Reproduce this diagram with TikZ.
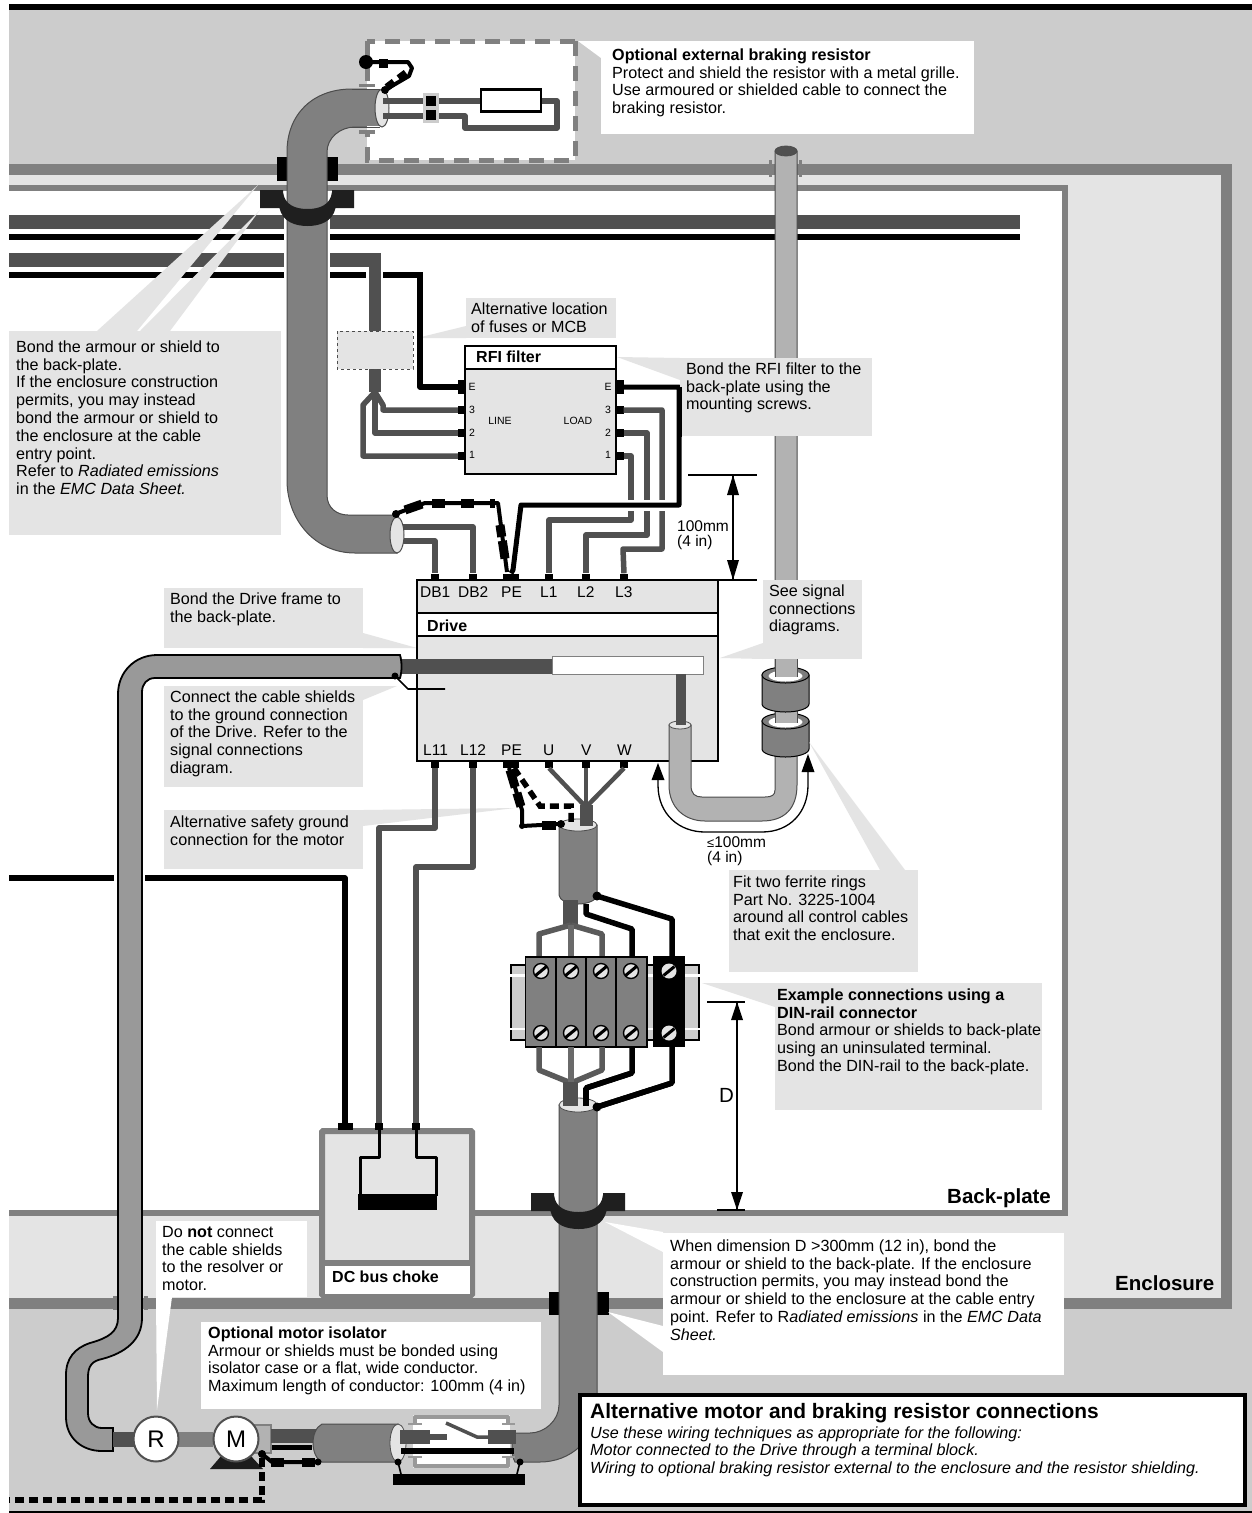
\documentclass[tikz,border=0pt]{standalone}
\usepackage{fontspec}
\setmainfont{Liberation Sans}
\definecolor{bggray}{HTML}{CCCCCC}
\definecolor{lgray}{HTML}{E4E4E4}
\definecolor{mgray}{HTML}{808080}
\definecolor{dgray}{HTML}{505050}
\definecolor{pgray}{HTML}{999999}
\definecolor{hgray}{HTML}{B2B2B2}
\tikzset{
  wire/.style={draw=dgray,line width=5.5pt,line join=round},
  bwire/.style={draw=black,line width=5.5pt,line join=round},
  thinb/.style={draw=black,line width=1.6pt,line join=round},
  shwire/.style={draw=black,line width=4pt,line join=round},
  blobs/.style={draw=black,line width=9pt,dash pattern=on 9pt off 15pt},
  dotted thick/.style={draw=black,line width=5.5pt,dash pattern=on 9pt off 5pt},
  term/.style={fill=black,inner sep=0pt,minimum width=8pt,minimum height=7pt},
  termv/.style={fill=black,inner sep=0pt,minimum width=7pt,minimum height=8pt},
  txt/.style={anchor=north west,inner sep=0pt,align=left,font=\fontsize{16.15}{17.8}\selectfont},
  lbl/.style={anchor=base west,inner sep=0pt,font=\fontsize{15.5}{15.5}\selectfont},
  blbl/.style={anchor=base west,inner sep=0pt,font=\fontsize{16}{16}\selectfont\bfseries},
  tiny/.style={anchor=center,inner sep=0pt,font=\fontsize{10.5}{10.5}\selectfont},
  pipe/.style={fill=mgray,draw=black!70,line width=1pt},
  spipe/.style={fill=pgray,draw=black,line width=1.8pt},
  lpipe/.style={fill=hgray,draw=black!70,line width=1pt},
  dimh/.style={draw=black,line width=1.6pt},
  dima/.style={fill=black},
  callout/.style={fill=lgray},
  calloutw/.style={fill=white},
  screw/.style={circle,draw=black,line width=1.4pt,fill=lgray,minimum size=15pt,inner sep=0pt},
}
\newcommand{\rs}{\rule{0pt}{12pt}}
\newcommand{\saddleclamp}{%
  \fill[black!88] (-47.5,0) -- (-24.5,0) -- (-24.5,2) .. controls (-23,15) and (-12,19) .. (0,19)
   .. controls (12,19) and (23,15) .. (24.5,2) -- (24.5,0) -- (46.5,0) -- (46.5,18) -- (28,18)
   .. controls (25,32) and (12,36) .. (0,36) .. controls (-12,36) and (-25,32) .. (-28,18) -- (-47.5,18) -- cycle;}
\begin{document}
\begin{tikzpicture}[x=1pt,y=-1pt]
\useasboundingbox (0,0) rectangle (1252,1513);
\fill[white] (0,0) rectangle (1252,1513);
% --- regions
\fill[bggray] (9,9) rectangle (1252,1511);
\fill[mgray] (9,164) rectangle (1232,1309);
\fill[lgray] (9,175) rectangle (1221,1298);
\fill[mgray] (9,185) rectangle (1068,1216);
\fill[white] (9,191) rectangle (1062,1210);
\fill[black] (9,4) rectangle (1252,10);
\fill[black] (9,1511) rectangle (1252,1513);
% --- horizontal supply bands
\fill[dgray] (9,215) rectangle (1020,229);
\fill[black] (9,234) rectangle (1020,240);
\fill[dgray] (9,253) rectangle (381,267);
\fill[black] (9,272) rectangle (423,278);
\fill[white] (366,268) rectangle (383,282);
\fill[dgray] (369,267) rectangle (381,392);
% --- choke
\fill[lgray,draw=mgray,line width=6pt,rounded corners=1pt] (322,1131) rectangle (472,1295);
\fill[mgray] (322,1260) rectangle (472,1266);
\fill[white] (325,1266) rectangle (470,1294);
% --- terminals
\node[termv,minimum height=14pt] (fE) at (461.5,387) {};
\node[termv] (f3) at (461.5,410) {};
\node[termv] (f2) at (461.5,433) {};
\node[termv] (f1) at (461.5,456) {};
\node[termv,minimum height=14pt] (gE) at (620,387) {};
\node[termv] (g3) at (620,410) {};
\node[termv] (g2) at (620,433) {};
\node[termv] (g1) at (620,456) {};
\node[term] (db1) at (435,577) {};
\node[term] (db2) at (473,577) {};
\node[term,minimum width=16pt] (pe) at (511,577) {};
\node[term] (l1) at (549,577) {};
\node[term] (l2) at (586,577) {};
\node[term] (l3) at (624,577) {};
\node[term] (l11) at (435,764.5) {};
\node[term] (l12) at (473,764.5) {};
\node[term,minimum width=16pt] (pe2) at (511,764.5) {};
\node[term] (u) at (549,764.5) {};
\node[term] (v) at (586,764.5) {};
\node[term] (w) at (624,764.5) {};
\node[term,minimum width=15pt] (c0) at (345,1126.5) {};
\node[term] (c1) at (379,1126.5) {};
\node[term] (c2) at (416,1126.5) {};
% --- callouts under wires
\fill[callout] (164,588) rectangle (363,648);
\fill[callout] (363,633) -- (417,648) -- (363,648) -- cycle;
\fill[callout] (164,686) rectangle (363,787);
\fill[callout] (363,686) -- (397,686) -- (363,700) -- cycle;
\fill[callout] (164,810) rectangle (363,869);
\fill[callout] (363,810) -- (515,808) -- (363,826) -- cycle;
\fill[callout] (466,298) rectangle (616,338);
\fill[callout] (466,326) -- (417,338) -- (466,338) -- cycle;
% --- LINE wires
\draw[bwire] (420,275) -- (420,387) -- (fE.west);
\draw[wire] (375,392) -- (383,405) -- (383,410) -- (f3.west);
\draw[wire] (375,392) -- (375,433) -- (f2.west);
\draw[wire] (375,392) -- (363,405) -- (363,456) -- (f1.west);
\fill[lgray,draw=black!70,line width=1pt,dashed] (337,331) rectangle (413,369);
% --- LOAD wires
\draw[wire] (g3.east) -- (662,410) -- (662,549) -- (623,549) -- (l3.north);
\draw[wire] (g2.east) -- (647,433) -- (647,535) -- (586,535) -- (l2.north);
\draw[wire] (g1.east) -- (631,456) -- (631,520) -- (549,520) -- (l1.north);
\draw[white,line width=11pt] (624,505) -- (672,505);
\draw[bwire,line width=5pt] (gE.east) -- (679,387) -- (679,505) -- (521,505) -- (513,570) -- (pe.north);
% --- drive
\draw[fill=lgray,draw=black,line width=1.6pt] (417,580) rectangle (718,761);
\draw[fill=white,draw=black,line width=1.6pt] (417,613) rectangle (718,636);
\fill[dgray] (400,659) rectangle (552,674);
\draw[fill=white,draw=mgray,line width=.8pt] (552,656) rectangle (703,674);
\fill[dgray] (676,674) rectangle (686,725);
% --- bottom drive wires
\draw[wire] (l11.south) -- (435,828) -- (379,828) -- (c1.north);
\draw[wire] (l12.south) -- (473,867) -- (416,867) -- (c2.north);
\draw[bwire] (9,878) -- (345,878) -- (c0.north);
\fill[white] (114,872) rectangle (145,885);
\draw[wire,line width=4.5pt] (u.south) -- (584,805);
\draw[wire,line width=4.5pt] (w.south) -- (588,805);
\draw[wire,line width=4.5pt] (v.south) -- (586,805);
\fill[dgray] (580,805) rectangle (593,830);
% --- choke inner
\draw[thinb,line width=3pt] (c1.south) -- (379,1157) -- (360,1157) -- (360,1196);
\draw[thinb,line width=3pt] (c2.south) -- (416,1157) -- (436,1157) -- (436,1196);
\fill[black] (358,1194) rectangle (437,1210);
% --- DB wires and dashed shields
\draw[wire] (397,527) -- (473,527) -- (db2.north);
\draw[wire] (397,541) -- (435,541) -- (db1.north);
% --- white halo for main pipe
\fill[white] (284,210) rectangle (330,280);
% --- enclosure clamps main pipe
\fill[black] (277,157) rectangle (338,181);
% --- main top pipe
\draw[pipe] (380,89) -- (352,89) .. controls (312,89) and (287,115) .. (287,152) -- (287,480)
  .. controls (287,520) and (315,553) .. (355,553) -- (397,553) -- (397,515) -- (348,515)
  .. controls (337,515) and (327,508) .. (327,495) -- (327,152)
  .. controls (327,138) and (340,127) .. (355,127) -- (380,127) -- cycle;
\draw[fill=lgray,draw=black!70,line width=1pt] (397,535) ellipse (7 and 18);
\begin{scope}[shift={(307.5,190)}]\saddleclamp\end{scope}
% --- braking resistor box
\fill[white] (367,41) rectangle (575,160);
\draw[draw=mgray,line width=5pt,dash pattern=on 15pt off 10pt] (575,41) -- (367,41);
\draw[draw=mgray,line width=5pt,dash pattern=on 15pt off 10pt] (575,41) -- (575,160) -- (367,160) -- (367,132);
\draw[draw=mgray,line width=5pt,dash pattern=on 15pt off 10pt] (367,41) -- (367,85);
\fill[mgray] (359,84) rectangle (375,87);
\fill[mgray] (359,130) rectangle (375,134);
\fill[mgray] (352,90) rectangle (382,126);
\draw[black!70,line width=1pt] (352,89) -- (380,89) (352,127) -- (380,127);
\draw[fill=lgray,draw=black!70,line width=1pt] (382,108) ellipse (7 and 19);
\draw[wire] (383,101) -- (480,101);
\draw[wire] (383,116) -- (465,116) -- (465,128) -- (557,128) -- (557,101) -- (542,101);
\fill[bggray] (423,93) rectangle (439,123);
\fill[black] (426,96) rectangle (436,106);
\fill[black] (426,110) rectangle (436,120);
\node[draw=black,fill=white,line width=2.5pt,inner sep=0pt,minimum width=60pt,minimum height=22pt] (res) at (511,100.5) {};
\fill[black] (366,62) circle (7);
\draw[shwire] (366,62) -- (408,62) -- (412,68) -- (409,76) -- (385,90);
\draw[blobs,dash pattern=on 9pt off 100pt] (379,63) -- (392,63);
\draw[blobs,dash pattern=on 9pt off 6pt on 9pt off 100pt,line width=7.5pt] (406,73) -- (386,88);
\fill[black] (385,90) circle (4);
% --- filter
\draw[fill=lgray,draw=black,line width=1.6pt] (465,346) rectangle (616,474);
\draw[fill=white,draw=black,line width=1.6pt] (465,346) rectangle (616,369);
\node[blbl] (rfi) at (476,362) {RFI filter};
\node[tiny] (le) at (472,387) {E};
\node[tiny] (l3l) at (472,410) {3};
\node[tiny] (l2l) at (472,433) {2};
\node[tiny] (l1l) at (472,455) {1};
\node[tiny] (re) at (608,387) {E};
\node[tiny] (r3l) at (608,410) {3};
\node[tiny] (r2l) at (608,433) {2};
\node[tiny] (r1l) at (608,455) {1};
\node[tiny] (linel) at (500,421) {LINE};
\node[tiny] (loadl) at (578,421) {LOAD};
% --- PE shield to DB pipe
\draw[shwire] (395,514) -- (425,503) -- (498,503) -- (507,572);
\draw[blobs,dash pattern=on 18pt off 100pt] (405,510) -- (425,503);
\draw[blobs,dash pattern=on 13pt off 16pt on 13pt off 16pt on 13pt off 100pt] (432,503) -- (495,503);
\draw[blobs,dash pattern=on 12pt off 4pt on 18pt off 100pt] (500,525) -- (507,572);
\fill[black] (396,514) circle (4);
% --- drive labels
\node[lbl] (t1) at (420,597) {DB1};
\node[lbl] (t2) at (458,597) {DB2};
\node[lbl] (t3) at (501,597) {PE};
\node[lbl] (t4) at (540,597) {L1};
\node[lbl] (t5) at (577,597) {L2};
\node[lbl] (t6) at (615,597) {L3};
\node[blbl] (drv) at (427,631) {Drive};
\node[lbl] (b1) at (423,755) {L11};
\node[lbl] (b2) at (460,755) {L12};
\node[lbl] (b3) at (501,755) {PE};
\node[lbl] (b4) at (543,755) {U};
\node[lbl] (b5) at (581,755) {V};
\node[lbl] (b6) at (617,755) {W};
% --- shield pipe from the drive to the resolver
\draw[spipe] (400,655) -- (157,655) .. controls (135,655) and (118,672) .. (118,694) -- (118,1318)
  .. controls (118,1332) and (108,1338) .. (90,1343) .. controls (75,1348) and (66,1358) .. (66,1375)
  -- (66,1417) .. controls (66,1438) and (82,1451) .. (102,1451) -- (113,1451) -- (113,1428) -- (102,1428)
  .. controls (94,1428) and (88,1422) .. (88,1413) -- (88,1377) .. controls (88,1366) and (92,1361) .. (102,1359)
  .. controls (125,1353) and (142,1340) .. (142,1318) -- (142,692) .. controls (142,684) and (147,678) .. (155,678)
  -- (400,678) .. controls (402,672) and (402,661) .. (400,655) -- cycle;
\fill[black] (395,676) circle (3.5);
\draw[thinb] (395,676) -- (408,689) -- (445,689);
\fill[mgray] (113,1296) rectangle (117,1310);
\fill[mgray] (144,1296) rectangle (148,1310);
% --- long signal pipe
\fill[mgray] (769,160) rectangle (772,177);
\fill[mgray] (799,160) rectangle (802,177);
\draw[lpipe] (775,151) -- (775,790) .. controls (775,795) and (772,797) .. (765,797) -- (702,797)
  .. controls (695,797) and (691,794) .. (691,785) -- (691,725) -- (669,725) -- (669,785)
  .. controls (669,808) and (685,821) .. (705,821) -- (762,821) .. controls (785,821) and (797,808) .. (797,785)
  -- (797,151) -- cycle;
\draw[fill=dgray,draw=black!70,line width=.8pt] (786,151) ellipse (11 and 5);
\draw[fill=lgray,draw=black!70,line width=.8pt] (680,725) ellipse (11 and 4);
\fill[dgray] (676,715) rectangle (686,725);
% ferrites
\draw[fill=mgray,draw=black,line width=1pt] (762,721) -- (762,749) arc[start angle=180,end angle=0,x radius=23.5,y radius=8] -- (809,721) -- cycle;
\draw[fill=dgray!75,draw=black,line width=1pt] (785.5,721) ellipse (23.5 and 8);
\fill[white] (785.5,722) ellipse (17 and 5.5);
\fill[hgray] (775,700) rectangle (797,723);
\draw[black!70,line width=1pt] (775,700) -- (775,723) (797,700) -- (797,723);
\draw[fill=mgray,draw=black,line width=1pt] (762,675) -- (762,704) arc[start angle=180,end angle=0,x radius=23.5,y radius=8] -- (809,675) -- cycle;
\draw[fill=dgray!75,draw=black,line width=1pt] (785.5,675) ellipse (23.5 and 8);
\fill[white] (785.5,676) ellipse (17 and 5.5);
\fill[hgray] (775,655) rectangle (797,677);
\draw[black!70,line width=1pt] (775,655) -- (775,677) (797,655) -- (797,677);
% --- middle motor cable
\draw[pipe] (559,825) -- (559,895) .. controls (559,900) and (568,904) .. (578,904) .. controls (588,904) and (597,900) .. (597,895) -- (597,825) -- cycle;
\draw[fill=lgray,draw=black!70,line width=.8pt] (578,825) ellipse (19 and 6);
\fill[dgray] (580,805) rectangle (593,826);
% --- PE dashed links
\draw[dotted thick] (514,768) -- (540,806) -- (571,806) -- (571,826);
\draw[shwire] (509,768) -- (522,810) -- (522,826) -- (560,824);
\draw[blobs,dash pattern=on 18pt off 6pt on 14pt off 100pt] (510,770) -- (522,810);
\draw[blobs,dash pattern=on 14pt off 100pt] (542,825) -- (556,825);
\fill[black] (561,824) circle (4);
\fill[black] (522,826) circle (3);
% --- din-rail wires top
\fill[dgray] (563,900) rectangle (578,927);
\draw[wire,draw=mgray!70!black] (571,925) -- (539,934) -- (539,958);
\draw[wire,draw=mgray!70!black] (571,925) -- (602,934) -- (602,958);
\draw[wire,draw=dgray!85] (571,925) -- (571,958);
\draw[bwire] (586,904) -- (586,914) -- (632,929) -- (632,958);
\draw[bwire] (597,896) -- (672,919) -- (672,958);
\fill[black] (597,896) circle (4.5);
% din-rail
\fill[bggray] (511,965) rectangle (699,1040);
\draw[black,line width=1.6pt] (511,965) rectangle (699,1040);
\draw[white,line width=2.5pt] (509,975.5) -- (701,975.5);
\draw[white,line width=2.5pt] (509,1029) -- (701,1029);
\draw[fill=mgray,draw=black,line width=1.6pt] (525.5,957) rectangle (647,1047);
\draw[black,line width=1.4pt] (556,957) -- (556,1047) (586,957) -- (586,1047) (616,957) -- (616,1047);
\fill[black] (653,956) rectangle (685,1047);
\foreach \sx/\sn in {541/a,571/b,601/c,631/d}{
  \foreach \sy/\sm in {971/t,1033/u}{
    \node[screw] (s\sn\sm) at (\sx,\sy) {};
    \draw[black,line width=3pt] (\sx-5.5,\sy+4.5) -- (\sx+5.5,\sy-4.5);
  }}
\foreach \sy/\sm in {971/t,1033/u}{
  \node[screw,draw=none,fill=lgray] (se\sm) at (669,\sy) {};
  \draw[black,line width=3pt] (669-5.5,\sy+4.5) -- (669+5.5,\sy-4.5);
}
% --- din-rail wires bottom
\draw[wire,draw=mgray!70!black] (539,1047) -- (539,1070) -- (571,1083);
\draw[wire,draw=mgray!70!black] (602,1047) -- (602,1070) -- (571,1083);
\draw[wire,draw=dgray!85] (571,1047) -- (571,1083);
\draw[bwire] (632,1047) -- (632,1073) -- (586,1088) -- (586,1106);
\draw[bwire] (672,1047) -- (672,1083) -- (597,1107);
% --- lower pipe, clamps
\fill[black] (549,1292) rectangle (609,1315);
\draw[pipe] (559,1105) -- (559,1405) .. controls (559,1420) and (545,1433) .. (530,1433) -- (515,1433)
  .. controls (511,1440) and (511,1455) .. (515,1462) -- (540,1462) .. controls (570,1462) and (597,1440) .. (597,1405) -- (597,1105) -- cycle;
\draw[fill=lgray,draw=black!70,line width=.8pt] (578,1105) ellipse (19 and 7);
\fill[dgray] (563,1082) rectangle (578,1106);
\draw[bwire] (586,1088) -- (586,1106);
\draw[bwire] (632,1073) -- (586,1088);
\draw[bwire] (672,1083) -- (597,1107);
\fill[black] (597,1107) circle (4.5);
\begin{scope}[shift={(578.5,1193)}]\saddleclamp\end{scope}
% --- motor end
\fill[dgray] (113,1432) rectangle (135,1447);
\fill[mgray] (178,1432) rectangle (213,1447);
\fill[dgray!130] (210,1469) -- (222,1455) -- (250,1455) -- (263,1469) -- cycle;
\draw[fill=hgray,draw=mgray,line width=1.5pt] (240,1425) rectangle (271,1453);
\node[draw=dgray,fill=white,circle,line width=2pt,inner sep=0pt,minimum size=45pt,font=\fontsize{24}{24}\selectfont] (res2) at (156,1439) {R};
\node[draw=dgray,fill=white,circle,line width=2pt,inner sep=0pt,minimum size=45pt,font=\fontsize{24}{24}\selectfont] (mot) at (236,1439) {M};
\fill[dgray] (271,1429) rectangle (316,1443);
\fill[black] (272,1445) rectangle (312,1450);
\draw[pipe] (398,1424) -- (322,1424) .. controls (310,1430) and (310,1456) .. (322,1462) -- (398,1462) -- cycle;
\draw[fill=lgray,draw=black!70,line width=.8pt] (398,1443) ellipse (8 and 19);
% isolator
\fill[white] (413,1415) rectangle (510,1468);
\draw[pgray,line width=4pt,line join=round] (415,1425) -- (415,1417) -- (508,1417) -- (508,1425);
\draw[pgray,line width=4pt,line join=round] (415,1456) -- (415,1466) -- (508,1466) -- (508,1456);
\draw[pgray,line width=2.5pt] (408,1424) -- (422,1424) (502,1424) -- (515,1424) (408,1457) -- (422,1457) (502,1457) -- (515,1457);
\fill[dgray] (400,1430) rectangle (430,1444);
\fill[dgray] (430,1434) rectangle (447,1440);
\draw[dgray,line width=3.5pt] (446,1423) -- (477,1437) -- (490,1437);
\fill[dgray] (488,1430) rectangle (516,1444);
\fill[black] (401,1448) rectangle (514,1454);
\fill[black] (393,1474) rectangle (525,1485);
\fill[black] (398,1462) circle (3.5);
\fill[black] (520,1462) circle (3.5);
\draw[black,line width=1.6pt] (398,1462) -- (401,1474) (520,1462) -- (517,1474);
% motor dashed
\draw[shwire] (262,1454) -- (272,1462) -- (318,1462);
\draw[blobs,dash pattern=on 13pt off 18pt on 13pt off 100pt] (271,1462) -- (316,1462);
\fill[black] (262,1454) circle (4);
\fill[black] (318,1462) circle (3.5);
\draw[dotted thick,line width=6pt] (262,1458) -- (262,1500) -- (9,1500);
% --- callouts above pipes
\fill[calloutw] (601,41) rectangle (974,134);
\fill[calloutw] (578,41) -- (601,41) -- (601,58) -- cycle;
\fill[callout] (9,331) rectangle (281,535);
\fill[callout] (258,185) -- (97,331) -- (137,331) -- cycle;
\fill[callout] (260,210) -- (140,331) -- (170,331) -- cycle;
\fill[callout] (680,358) rectangle (872,436);
\fill[callout] (617,357) -- (680,358) -- (680,380) -- cycle;
\draw[bwire,line width=5pt] (679,387) -- (679,437);
\fill[callout] (763,580) rectangle (862,659);
\fill[callout] (763,643) -- (720,658) -- (763,659) -- cycle;
\fill[callout] (729,870) rectangle (918,972);
\fill[callout] (809,742) -- (880,870) -- (905,870) -- cycle;
\fill[callout] (775,983) rectangle (1042,1110);
\fill[callout] (775,983) -- (702,983) -- (775,1007) -- cycle;
\fill[calloutw] (156,1221) rectangle (307,1297);
\fill[calloutw] (156,1297) -- (157,1410) -- (172,1297) -- cycle;
\fill[calloutw] (201,1322) rectangle (541,1409);
\fill[calloutw] (663,1233) rectangle (1064,1375);
\fill[calloutw] (605,1222) -- (663,1232) -- (663,1252) -- cycle;
\fill[calloutw] (608,1312) -- (663,1326) -- (663,1352) -- cycle;
% --- dimensions
\draw[dimh] (688,475) -- (757,475);
\draw[dimh] (718,580) -- (757,580);
\coordinate (dA) at (733,475);
\coordinate (dB) at (733,580);
\draw[dimh] (dA) -- (dB);
\fill[dima] (dA) -- (727,495) -- (739,495) -- cycle;
\fill[dima] (dB) -- (727,560) -- (739,560) -- cycle;
\node[lbl] (d100) at (677,531) {100mm};
\node[lbl] (d4) at (677,546) {(4 in)};
\draw[dimh,line width=1.3pt] (658,775) -- (658,785) .. controls (658,815) and (680,832) .. (705,832) -- (762,832) .. controls (790,832) and (808,812) .. (808,785) -- (808,770);
\fill[dima] (658,763) -- (651.5,780) -- (664.5,780) -- cycle;
\fill[dima] (808,754) -- (801.5,772) -- (814.5,772) -- cycle;
\node[lbl] (d100b) at (707,847) {{\fontsize{13}{13}\selectfont ≤}100mm};
\node[lbl] (d4b) at (707,862) {(4 in)};
\draw[dimh] (707,1002) -- (745,1002);
\draw[dimh] (717,1210) -- (745,1210);
\coordinate (eA) at (737,1002);
\coordinate (eB) at (737,1210);
\draw[dimh] (eA) -- (eB);
\fill[dima] (eA) -- (731,1020) -- (743,1020) -- cycle;
\fill[dima] (eB) -- (731,1192) -- (743,1192) -- cycle;
\node[anchor=base west,inner sep=0pt,font=\fontsize{20.5}{20.5}\selectfont] (dD) at (719,1102) {D};
% --- choke title
\node[blbl] (chk) at (332,1282) {DC bus choke};
% --- texts
\node[txt] (n1) at (612,48) {\rs\textbf{Optional external braking resistor}\\Protect and shield the resistor with a metal grille.\\Use armoured or shielded cable to connect the\\braking resistor.};
\node[txt] (n2) at (16,340) {\rs Bond the armour or shield to\\the back-plate.\\If the enclosure construction\\permits, you may instead\\bond the armour or shield to\\the enclosure at the cable\\entry point.\\Refer to \textit{Radiated emissions}\\in the \textit{EMC Data Sheet.}};
\node[txt] (n3) at (471,302) {\rs Alternative location\\of fuses or MCB};
\node[txt] (n4) at (686,362) {\rs Bond the RFI filter to the\\back-plate using the\\mounting screws.};
\node[txt] (n5) at (170,592) {\rs Bond the Drive frame to\\the back-plate.};
\node[txt] (n6) at (769,584) {\rs See signal\\connections\\diagrams.};
\node[txt] (n7) at (170,690) {\rs Connect the cable shields\\to the ground connection\\of the Drive. Refer to the\\signal connections\\diagram.};
\node[txt] (n8) at (170,815) {\rs Alternative safety ground\\connection for the motor};
\node[txt] (n9) at (733,875) {\rs Fit two ferrite rings\\Part No. 3225-1004\\around all control cables\\that exit the enclosure.};
\node[txt] (n10) at (777,988) {\rs\textbf{Example connections using a}\\\textbf{DIN-rail connector}\\Bond armour or shields to back-plate\\using an uninsulated terminal.\\Bond the DIN-rail to the back-plate.};
\node[txt] (n11) at (162,1225) {\rs Do \textbf{not} connect\\the cable shields\\to the resolver or\\motor.};
\node[txt] (n12) at (208,1326) {\rs\textbf{Optional motor isolator}\\Armour or shields must be bonded using\\isolator case or a flat, wide conductor.\\Maximum length of conductor: 100mm (4 in)};
\node[txt] (n13) at (670,1239) {\rs When dimension D >300mm (12 in), bond the\\armour or shield to the back-plate. If the enclosure\\construction permits, you may instead bond the\\armour or shield to the enclosure at the cable entry\\point. Refer to R\textit{adiated emissions} in the \textit{EMC Data}\\\textit{Sheet.}};
\node[anchor=base west,inner sep=0pt,font=\fontsize{20.5}{20.5}\selectfont\bfseries] (bp) at (947,1203) {Back-plate};
\node[anchor=base west,inner sep=0pt,font=\fontsize{20.5}{20.5}\selectfont\bfseries] (enc) at (1115,1290) {Enclosure};
% --- info box
\draw[fill=white,draw=black,line width=4pt] (580,1395) rectangle (1245,1505);
\node[anchor=base west,inner sep=0pt,font=\fontsize{20.9}{20.9}\selectfont\bfseries] (ti) at (590,1418) {Alternative motor and braking resistor connections};
\node[anchor=north west,inner sep=0pt,align=left,font=\fontsize{16.15}{17.5}\selectfont\itshape] (tx) at (590,1426) {\rs Use these wiring techniques as appropriate for the following:\\Motor connected to the Drive through a terminal block.\\Wiring to optional braking resistor external to the enclosure and the resistor shielding.};
\end{tikzpicture}
\end{document}
